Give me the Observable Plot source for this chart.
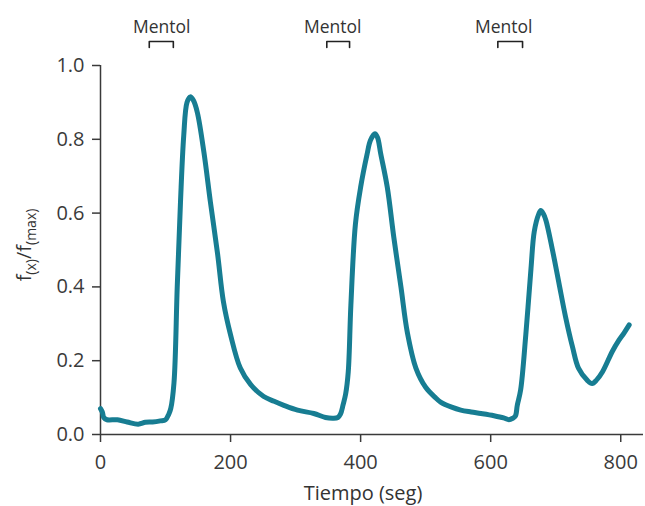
<!DOCTYPE html>
<html>
<head>
<meta charset="utf-8">
<script src="https://cdn.jsdelivr.net/npm/d3@7"></script>
<script src="https://cdn.jsdelivr.net/npm/@observablehq/plot@0.6"></script>
<style>
  html, body { margin: 0; padding: 0; background: #fff; }
  svg { display: block; }
</style>
</head>
<body>
<div id="chart"></div>
<script>
// Time (seconds)
const tiempo = [0,3,5,10,26,41,58,69,80,92,100,105,108,113,118,123,128,133,138,143,149,159,169,180,189,200,215,231,251,267,282,303,328,346,358,365,369,373,377,381,385,392,400,410,415,422,426,431,441,451,462,472,485,500,515,523,540,554,570,585,605,620,628,634,638,641,646,654,662,667,674,677,681,685,695,705,715,726,735,749,756,763,772,787,797,805,813];
// Normalized fluorescence f(x)/f(max)
const ratio = [0.07,0.06,0.046,0.04,0.04,0.034,0.028,0.033,0.034,0.037,0.04,0.055,0.07,0.14,0.40,0.63,0.81,0.90,0.915,0.905,0.872,0.765,0.63,0.49,0.36,0.27,0.18,0.135,0.103,0.09,0.079,0.066,0.057,0.046,0.044,0.046,0.055,0.08,0.11,0.17,0.35,0.57,0.67,0.76,0.797,0.815,0.805,0.76,0.67,0.535,0.40,0.275,0.18,0.128,0.10,0.088,0.074,0.066,0.061,0.057,0.051,0.045,0.04,0.044,0.05,0.08,0.12,0.27,0.45,0.55,0.598,0.607,0.598,0.58,0.50,0.41,0.32,0.236,0.18,0.146,0.138,0.148,0.17,0.225,0.255,0.275,0.297];

// Menthol application windows
const mentolStart = [75, 348, 611];
const mentolEnd = [112, 383, 649];
const mentolLabelX = [94, 357, 620];
const mentolLabel = ["Mentol", "Mentol", "Mentol"];

const xTicks = [0, 200, 400, 600, 800];
const yTicks = [0, 0.2, 0.4, 0.6, 0.8, 1.0];

const series = tiempo.map((t, i) => ({t, v: ratio[i]}));
const bracketPts = [];
mentolStart.forEach((s, i) => {
  const e = mentolEnd[i];
  bracketPts.push({g: i, x: s, y: 1.049}, {g: i, x: s, y: 1.065}, {g: i, x: e, y: 1.065}, {g: i, x: e, y: 1.049});
});
const labels = mentolLabel.map((l, i) => ({x: mentolLabelX[i], l}));

const axisColor = "#3a3a3a";
const lineColor = "#177d92";

const chart = Plot.plot({
  width: 645,
  height: 506,
  marginTop: 65,
  marginBottom: 72,
  marginLeft: 100,
  marginRight: 2,
  style: {fontFamily: "'Open Sans', sans-serif", fontSize: "20px", color: axisColor, background: "#fff", overflow: "visible"},
  x: {domain: [0, 835], ticks: xTicks, tickSize: 8, tickPadding: 12, label: null},
  y: {domain: [0, 1], ticks: yTicks, tickFormat: d3.format(".1f"), tickSize: 8, tickPadding: 8, label: null},
  marks: [
    Plot.axisX({ticks: xTicks, tickSize: 8, tickPadding: 12, label: null, strokeWidth: 1.5, fontSize: 20}),
    Plot.axisY({ticks: yTicks, tickFormat: d3.format(".1f"), tickSize: 8, tickPadding: 8, label: null, strokeWidth: 1.5, fontSize: 20}),
    Plot.ruleY([0], {stroke: axisColor, strokeWidth: 1.5}),
    Plot.ruleX([0], {y1: 0, y2: 1, stroke: axisColor, strokeWidth: 1.5}),
    Plot.line(series, {x: "t", y: "v", stroke: lineColor, strokeWidth: 5, curve: "catmull-rom", strokeLinejoin: "round", strokeLinecap: "round"}),
    Plot.line(bracketPts, {x: "x", y: "y", z: "g", stroke: "#222", strokeWidth: 1.6, clip: false}),
    Plot.text(labels, {x: "x", y: () => 1.104, text: "l", fontSize: 17.5, fill: "#333", lineAnchor: "middle", clip: false}),
    Plot.text(["Tiempo (seg)"], {frameAnchor: "bottom", dx: -9, dy: 59, lineAnchor: "middle", fontSize: 20, fill: "#333"})
  ]
});

const svg = d3.select(chart);
const yl = svg.append("text")
  .attr("transform", "translate(31,245) rotate(-90)")
  .attr("text-anchor", "middle")
  .attr("font-size", 20)
  .attr("fill", "#333")
  .attr("font-family", "'Open Sans', sans-serif");
yl.append("tspan").text("f");
yl.append("tspan").attr("font-size", 14).attr("dy", 5).text("(x)");
yl.append("tspan").attr("dy", -5).text("/f");
yl.append("tspan").attr("font-size", 14).attr("dy", 5).text("(max)");

document.getElementById("chart").appendChild(chart);
</script>
</body>
</html>
